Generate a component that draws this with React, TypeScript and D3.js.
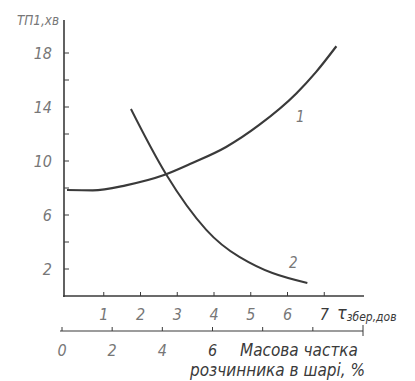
import React, { useEffect, useRef } from 'react'
import * as d3 from 'd3'

// curve 1 and curve 2: [tau, minutes]
const curve1X = [0, 0.7, 1.6, 2.64, 3.41, 4.33, 5.23, 6.24, 6.78, 7.33]
const curve1Y = [7.85, 7.83, 8.2, 8.96, 9.85, 11.04, 12.67, 15.0, 16.6, 18.5]
const curve2X = [1.74, 2.7, 3.79, 4.69, 5.59, 6.54]
const curve2Y = [13.85, 9.0, 4.9, 2.9, 1.7, 0.96]

const yTicks = [2, 4, 6, 8, 10, 12, 14, 16, 18]
const yLabels = [2, 6, 10, 14, 18]
const xTicks = [1, 2, 3, 4, 5, 6, 7]
const massTicks = [0, 2, 4, 6, 8, 10, 12]
const massLabels = [0, 2, 4, 6]

const FONT = '"DejaVu Sans Condensed", "DejaVu Sans", sans-serif'
const INK = '#3a3a3a'
const TXT = '#777'

const App = () => {
  const ref = useRef(null)

  useEffect(() => {
    const svg = d3.select(ref.current)
    svg.selectAll('*').remove()

    const x = d3.scaleLinear().domain([0, 8]).range([67, 361])
    const y = d3.scaleLinear().domain([0, 18]).range([296, 53])
    const m = d3.scaleLinear().domain([0, 12]).range([62, 363])

    // y axis
    svg.append('line').attr('x1', 64).attr('x2', 64).attr('y1', 20).attr('y2', 297)
      .attr('stroke', INK).attr('stroke-width', 1.6)
    svg.selectAll('.yt').data(yTicks).enter().append('line')
      .attr('x1', 64).attr('x2', 69).attr('y1', (d) => y(d)).attr('y2', (d) => y(d))
      .attr('stroke', INK).attr('stroke-width', 1)
    svg.selectAll('.yl').data(yLabels).enter().append('text')
      .attr('x', 52).attr('y', (d) => y(d) + 6).attr('text-anchor', 'end')
      .attr('font-size', 16).attr('font-style', 'italic').attr('fill', TXT)
      .attr('font-family', FONT).text((d) => d)
    svg.append('text').attr('x', 17).attr('y', 25).attr('font-size', 14)
      .attr('font-style', 'italic').attr('fill', TXT).attr('font-family', FONT)
      .attr('textLength', 42).attr('lengthAdjust', 'spacingAndGlyphs').text('ТП1,хв')

    // tau axis
    svg.append('line').attr('x1', 63).attr('x2', 364).attr('y1', 296).attr('y2', 296)
      .attr('stroke', INK).attr('stroke-width', 1.6)
    svg.selectAll('.xt').data(xTicks).enter().append('line')
      .attr('x1', (d) => x(d)).attr('x2', (d) => x(d)).attr('y1', 296).attr('y2', 292)
      .attr('stroke', INK).attr('stroke-width', 1)
    svg.selectAll('.xl').data(xTicks).enter().append('text')
      .attr('x', (d) => x(d)).attr('y', 320).attr('text-anchor', 'middle')
      .attr('font-size', 16).attr('font-style', 'italic').attr('fill', (d) => (d === 7 ? INK : TXT))
      .attr('font-family', FONT).text((d) => d)
    const tau = svg.append('text').attr('x', 337).attr('y', 319)
      .attr('font-family', FONT).attr('font-style', 'italic').attr('fill', INK)
    tau.append('tspan').attr('font-size', 18).text('τ')
    tau.append('tspan').attr('font-size', 12).attr('dy', 2).text('збер,дов')

    // mass fraction axis
    svg.append('line').attr('x1', 60).attr('x2', 363).attr('y1', 331).attr('y2', 331)
      .attr('stroke', INK).attr('stroke-width', 1.2)
    svg.selectAll('.mt').data(massTicks).enter().append('line')
      .attr('x1', (d) => m(d)).attr('x2', (d) => m(d))
      .attr('y1', (d) => (d === 12 ? 336 : 331)).attr('y2', (d) => (d === 12 ? 325 : 327))
      .attr('stroke', INK).attr('stroke-width', 1)
    svg.selectAll('.ml').data(massLabels).enter().append('text')
      .attr('x', (d) => m(d)).attr('y', 356).attr('text-anchor', 'middle')
      .attr('font-size', 16).attr('font-style', 'italic').attr('fill', (d) => (d === 6 ? INK : TXT))
      .attr('font-family', FONT).text((d) => d)
    svg.append('text').attr('x', 240).attr('y', 356).attr('font-size', 17)
      .attr('font-style', 'italic').attr('fill', INK).attr('font-family', FONT)
      .text('Масова частка')
    svg.append('text').attr('x', 190).attr('y', 376).attr('font-size', 17)
      .attr('font-style', 'italic').attr('fill', INK).attr('font-family', FONT)
      .text('розчинника в шарі, %')

    // curves
    const line = d3.line().x((d) => x(d[0])).y((d) => y(d[1])).curve(d3.curveMonotoneX)
    const c1 = curve1X.map((v, i) => [v, curve1Y[i]])
    const c2 = curve2X.map((v, i) => [v, curve2Y[i]])
    svg.append('path').attr('d', line(c1)).attr('fill', 'none')
      .attr('stroke', INK).attr('stroke-width', 2.2)
    svg.append('path').attr('d', d3.line().x((d) => x(d[0])).y((d) => y(d[1])).curve(d3.curveNatural)(c2))
      .attr('fill', 'none').attr('stroke', INK).attr('stroke-width', 2)

    svg.append('text').attr('x', 296).attr('y', 122).attr('font-size', 15)
      .attr('font-style', 'italic').attr('fill', TXT).attr('font-family', FONT).text('1')
    svg.append('text').attr('x', 289).attr('y', 268).attr('font-size', 15)
      .attr('font-style', 'italic').attr('fill', TXT).attr('font-family', FONT).text('2')
  }, [])

  return (
    <svg ref={ref} width={415} height={381}
      style={{ position: 'absolute', left: 0, top: 0, background: '#fff' }} />
  )
}

export default App
